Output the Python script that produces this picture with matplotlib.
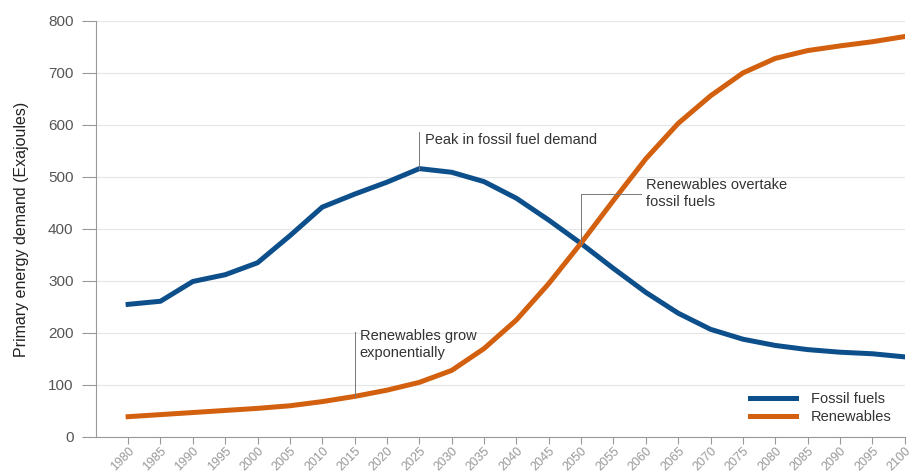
import matplotlib
matplotlib.use('Agg')
import matplotlib.pyplot as plt

plt.rcParams['font.family'] = ['Liberation Sans Narrow', 'Liberation Sans', 'DejaVu Sans']

# Data (exajoules)
years = list(range(1980, 2101, 5))
fossil = [255, 261, 299, 312, 335, 387, 442, 467, 490, 516, 509, 491, 459,
          417, 372, 324, 278, 238, 207, 188, 176, 168, 163, 160, 154]
renewables = [39, 43, 47, 51, 55, 60, 68, 78, 90, 105, 128, 170, 225,
              295, 373, 455, 535, 603, 656, 700, 728, 743, 752, 760, 770]

blue = '#0d4f8b'
orange = '#d2600f'
grey = '#555555'

fig = plt.figure(figsize=(9.12, 4.76), dpi=100)
ax = fig.add_axes([0.105, 0.082, 0.887, 0.874])

ax.plot(years, fossil, color=blue, linewidth=3.6, label='Fossil fuels', solid_joinstyle='round')
ax.plot(years, renewables, color=orange, linewidth=3.6, label='Renewables', solid_joinstyle='round')

ax.set_xlim(1975, 2100)
ax.set_ylim(0, 800)
ax.set_yticks(range(0, 801, 100))
ax.set_xticks(years)
ax.set_xticklabels([str(y) for y in years], rotation=45, ha='right', rotation_mode='anchor',
                   color=grey, fontsize=9)
ax.tick_params(axis='y', colors='#999999', labelcolor=grey, labelsize=11, length=10, width=0.8, pad=6)
ax.tick_params(axis='x', colors='#999999', length=5, width=0.8, pad=1)
ax.set_ylabel('Primary energy demand (Exajoules)', fontsize=11.5, color='#222222', labelpad=14)

ax.grid(axis='y', color='#e6e6e6', linewidth=0.8)
ax.set_axisbelow(True)
for s in ['top', 'right']:
    ax.spines[s].set_visible(False)
ax.spines['left'].set_color('#999999')
ax.spines['bottom'].set_color('#999999')

# annotations
ann_color = '#777777'
ax.plot([2025, 2025], [516, 586], color=ann_color, linewidth=0.7)
ax.text(2025.8, 572, 'Peak in fossil fuel demand', fontsize=10.5, color='#333333', va='center')

ax.plot([2050, 2050, 2059.2], [372, 467, 467], color=ann_color, linewidth=0.7)
ax.text(2060, 468, 'Renewables overtake\nfossil fuels', fontsize=10.5, color='#333333',
        va='center', linespacing=1.25)

ax.plot([2015, 2015], [78, 202], color=ann_color, linewidth=0.7)
ax.text(2015.8, 178, 'Renewables grow\nexponentially', fontsize=10.5, color='#333333',
        va='center', linespacing=1.25)

leg = ax.legend(loc='lower right', frameon=False, fontsize=10.5, handlelength=3.2,
                handletextpad=1.0, bbox_to_anchor=(1.0, 0.0), labelspacing=0.25)
for t in leg.get_texts():
    t.set_color('#333333')

fig.savefig('out.png', dpi=100)
plt.close(fig)
